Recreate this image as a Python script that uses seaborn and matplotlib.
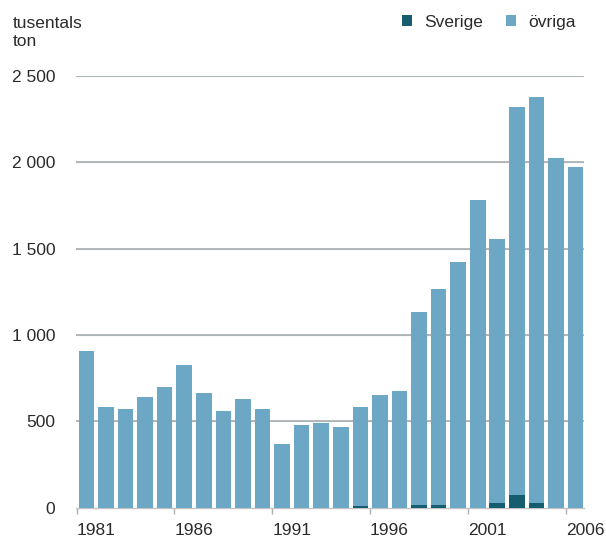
import matplotlib
matplotlib.use("Agg")
import matplotlib.pyplot as plt
from matplotlib.patches import Patch
from matplotlib.ticker import FuncFormatter
import seaborn as sns
import pandas as pd

# Landings per year, thousands of tonnes
years = list(range(1981, 2007))
sverige = [0, 0, 0, 0, 0, 0, 0, 0, 0, 0,
           0, 0, 0, 0, 10, 0, 0, 15, 15, 0,
           0, 25, 70, 25, 0, 0]
ovriga = [905, 580, 570, 640, 698, 828, 665, 558, 630, 570,
          368, 476, 488, 466, 570, 650, 673, 1118, 1250, 1420,
          1782, 1532, 2250, 2355, 2027, 1970]
yticks = [0, 500, 1000, 1500, 2000, 2500]
xlabel_years = [1981, 1986, 1991, 1996, 2001, 2006]

light = "#6CA8C6"
dark = "#165D70"
text_col = "#2b2b2b"

df = pd.DataFrame({"year": [str(y) for y in years],
                   "sverige": sverige, "ovriga": ovriga})
df["total"] = df["sverige"] + df["ovriga"]

sns.set_theme(style="white")
plt.rcParams["font.family"] = ["Liberation Sans", "DejaVu Sans"]

fig = plt.figure(figsize=(6.06, 5.46), dpi=100)
ax = fig.add_axes([76 / 606, 1 - 507.5 / 546, 508 / 606, (507.5 - 76) / 546])

# gridlines behind the bars
for v in yticks[1:]:
    ax.axhline(v, color="#b4b4b4", lw=1.3, zorder=0)

sns.barplot(data=df, x="year", y="total", color=light, saturation=1,
            width=0.8, ax=ax, zorder=2, linewidth=0)
sns.barplot(data=df, x="year", y="sverige", color=dark, saturation=1,
            width=0.8, ax=ax, zorder=3, linewidth=0)

# faint trace of the gridlines over the bars
for v in yticks[1:]:
    ax.axhline(v, color="#7a9fb2", lw=1.0, alpha=0.2, zorder=4)

ax.set_xlim(-0.53, 25.43)
ax.set_ylim(0, 2500)
ax.set_xlabel("")
ax.set_ylabel("")

ax.set_yticks(yticks)
ax.yaxis.set_major_formatter(FuncFormatter(lambda v, p: f"{int(v):,}".replace(",", " ")))
ax.tick_params(axis="y", length=0, pad=15, labelsize=12.5, labelcolor=text_col)

pos = [years.index(y) - 0.5 for y in xlabel_years]
ax.set_xticks(pos)
ax.set_xticklabels([str(y) for y in xlabel_years], ha="left")
ax.tick_params(axis="x", length=4.5, width=1, color="#b0b0b0", pad=7,
               labelsize=12.5, labelcolor=text_col, bottom=True)

for s in ["top", "right", "left"]:
    ax.spines[s].set_visible(False)
ax.spines["bottom"].set_color("#c4c4c4")
ax.spines["bottom"].set_linewidth(1)
ax.spines["bottom"].set_zorder(1)

fig.text(12.5 / 606, 1 - 16 / 546, "tusentals\nton", ha="left", va="top",
         fontsize=12.5, color=text_col, linespacing=1.25)

handles = [Patch(facecolor=dark, edgecolor="none", label="Sverige"),
           Patch(facecolor=light, edgecolor="none", label="övriga")]
fig.legend(handles=handles, loc="upper right", ncol=2, frameon=False,
           bbox_to_anchor=(576 / 606, 1 - 15 / 546), fontsize=12.5,
           handlelength=0.6, handleheight=0.6, handletextpad=0.7,
           columnspacing=1.3, borderpad=0, borderaxespad=0,
           labelcolor=text_col)

fig.savefig("out.png", dpi=100, facecolor="white")
